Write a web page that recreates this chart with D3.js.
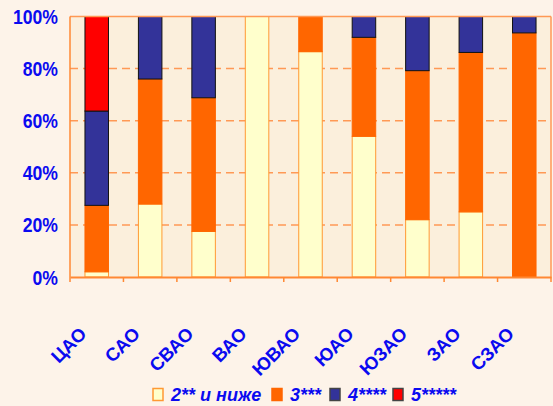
<!DOCTYPE html>
<html><head><meta charset="utf-8">
<script src="https://cdn.jsdelivr.net/npm/d3@7"></script>
<style>
html,body{margin:0;padding:0;background:#FDF3E9;}
svg{display:block;}
</style></head>
<body>
<script>
const categories = ["ЦАО","САО","СВАО","ВАО","ЮВАО","ЮАО","ЮЗАО","ЗАО","СЗАО"];
const seriesNames = ["2** и ниже","3***","4****","5*****"];
const grade2 = [2, 28, 17.5, 100, 86.5, 54, 22, 25, 0];
const grade3 = [25.5, 48, 51.3, 0, 13.5, 38, 57.2, 61.2, 93.7];
const grade4 = [36.2, 24, 31.2, 0, 0, 8, 20.8, 13.8, 6.3];
const grade5 = [36.3, 0, 0, 0, 0, 0, 0, 0, 0];
const yTicks = [0, 20, 40, 60, 80, 100];
const colors = ["#FFFFCC","#FF6600","#333399","#FF0000"];
const strokes = ["#FF9933","#FF6600","#111111","#111111"];

const W = 553, H = 406;
const m = {l:70, r:2, t:16.5, b:129};
const svg = d3.select("body").append("svg").attr("width",W).attr("height",H);
svg.append("rect").attr("width",W).attr("height",H).attr("fill","#FDF3E9");

const x = d3.scaleBand().domain(categories).range([m.l, W-m.r]).paddingInner(0.56).paddingOuter(0.28);
const y = d3.scaleLinear().domain([0,100]).range([H-m.b, m.t]);

// plot background
svg.append("rect").attr("x",m.l).attr("y",m.t).attr("width",W-m.r-m.l).attr("height",y(0)-m.t)
  .attr("fill","#FBEFDC");

// gridlines
svg.append("g").selectAll("line").data(yTicks.filter(d=>d>0 && d<100)).join("line")
  .attr("x1",m.l).attr("x2",W-m.r).attr("y1",d=>y(d)).attr("y2",d=>y(d))
  .attr("stroke","#FF9955").attr("stroke-width",1.5).attr("stroke-dasharray","8,5");

// stacked data
const rows = categories.map((c,i)=>({cat:c, s0:grade2[i], s1:grade3[i], s2:grade4[i], s3:grade5[i]}));
const stack = d3.stack().keys(["s0","s1","s2","s3"]);
const layers = stack(rows);

layers.forEach((layer, li)=>{
  svg.append("g").selectAll("rect").data(layer.filter(d=>d[1]-d[0]>0)).join("rect")
    .attr("x",d=>x(d.data.cat)).attr("width",x.bandwidth())
    .attr("y",d=>y(d[1])).attr("height",d=>y(d[0])-y(d[1]))
    .attr("fill",colors[li]).attr("stroke",strokes[li]).attr("stroke-width",1);
});

// border
svg.append("line").attr("x1",m.l).attr("x2",W-m.r).attr("y1",m.t).attr("y2",m.t).attr("stroke","#FF9955").attr("stroke-width",1.5);
svg.append("line").attr("x1",W-m.r).attr("x2",W-m.r).attr("y1",m.t).attr("y2",y(0)).attr("stroke","#FF9955").attr("stroke-width",1.5);
svg.append("line").attr("x1",m.l).attr("x2",m.l).attr("y1",m.t).attr("y2",y(0)).attr("stroke","#FF8833").attr("stroke-width",1.5);

// x axis
const xAxis = svg.append("g").attr("transform",`translate(0,${y(0)})`)
  .call(d3.axisBottom(x).tickSize(0).tickFormat(""));
xAxis.select(".domain").attr("stroke","#FF8833").attr("stroke-width",2);
const step = x.step();
svg.append("g").selectAll("line").data(d3.range(categories.length+1)).join("line")
  .attr("x1",i=>m.l+i*step).attr("x2",i=>m.l+i*step).attr("y1",y(0)).attr("y2",y(0)+5)
  .attr("stroke","#FF8833").attr("stroke-width",1.5);

svg.append("g").selectAll("text").data(categories).join("text")
  .attr("transform",d=>`translate(${x(d)+x.bandwidth()/2-9},${y(0)+58}) rotate(-45)`)
  .attr("text-anchor","end")
  .attr("font-family","Liberation Sans, Arial, sans-serif").attr("font-weight","bold")
  .attr("font-size",18.5).attr("fill","#0A0AF0").text(d=>d);

// y axis labels
svg.append("g").selectAll("text").data(yTicks).join("text")
  .attr("transform",d=>`translate(${m.l-12},${y(d)+7.5}) scale(0.86,1)`)
  .attr("text-anchor","end")
  .attr("font-family","Liberation Sans, Arial, sans-serif").attr("font-weight","bold")
  .attr("font-size",20.5).attr("fill","#0A0AF0").text(d=>d+"%");

// legend
const legX = [153, 272, 330, 393];
const lg = svg.append("g");
seriesNames.forEach((n,i)=>{
  lg.append("rect").attr("x",legX[i]).attr("y",388.5).attr("width",10).attr("height",12)
    .attr("fill",colors[i]).attr("stroke", i===0?"#FF9933":(i===1?"#FF6600":"#444")).attr("stroke-width",1.5);
  lg.append("text").attr("x",legX[i]+18).attr("y",401)
    .attr("font-family","Liberation Sans, Arial, sans-serif").attr("font-weight","bold").attr("font-style","italic")
    .attr("font-size",18).attr("fill","#0A0AF0").text(n);
});
</script>
</body></html>
